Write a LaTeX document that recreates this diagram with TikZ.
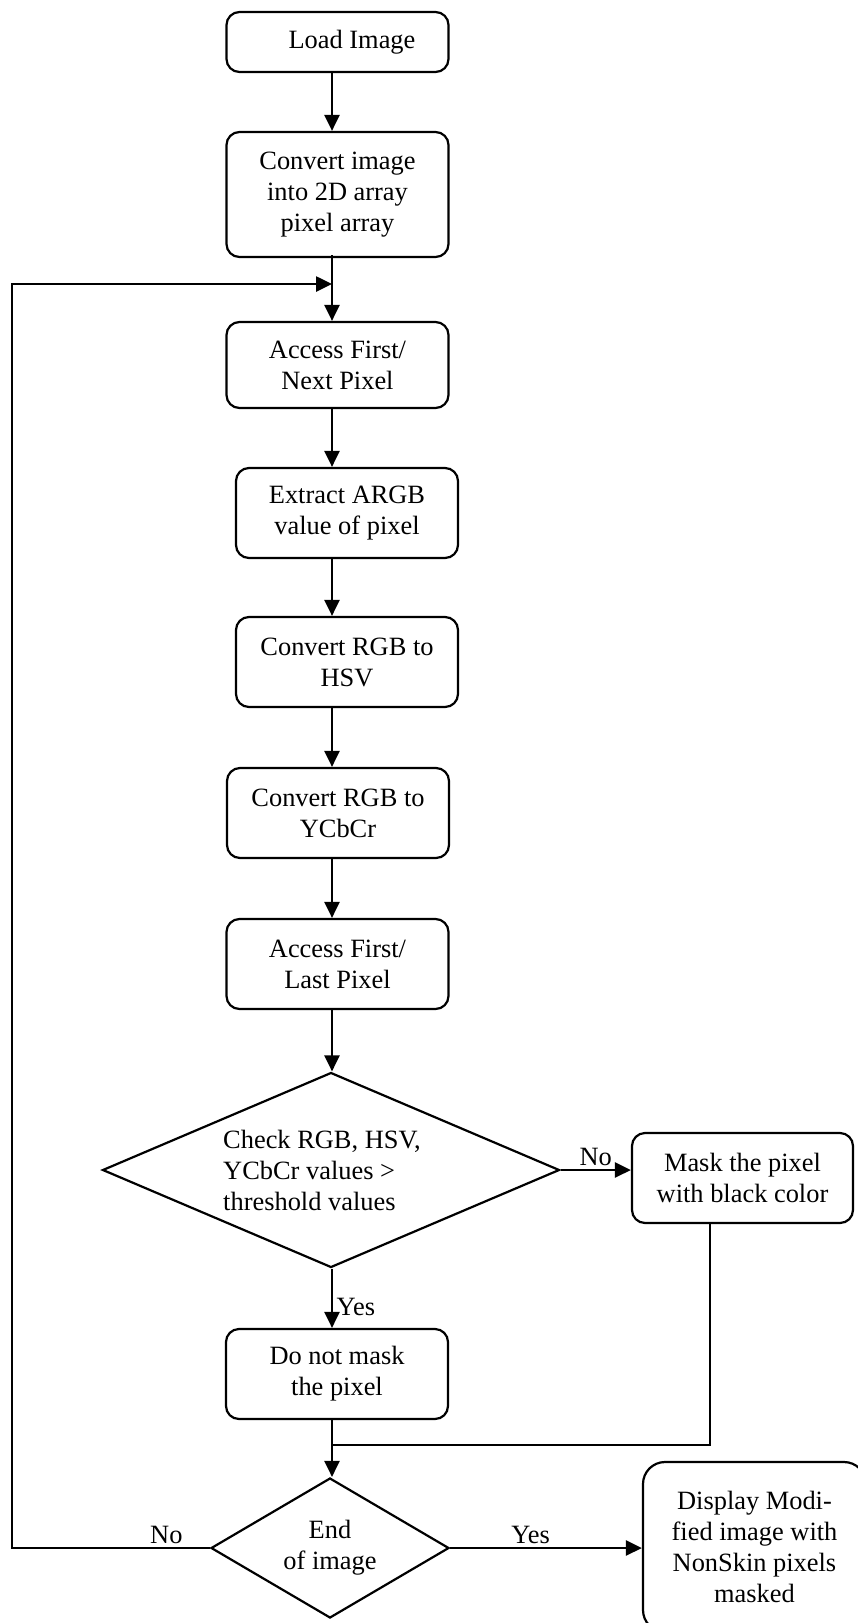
\documentclass[tikz,border=0pt]{standalone}
\usepackage{fontspec}
\setmainfont{Liberation Serif}
\usetikzlibrary{shapes.geometric, arrows.meta}

\tikzset{
  box/.style={draw, line width=2.2pt, rounded corners=13pt, minimum width=222pt,
    minimum height=90pt, align=center},
  decision/.style={draw, diamond, line width=2.2pt, inner sep=0pt},
  arr/.style={-{Triangle[length=16pt, width=15pt]}, line width=2.6pt},
}

\begin{document}
\begin{tikzpicture}[x=1pt, y=-1pt,
    every node/.style={font=\fontsize{26.4}{31}\selectfont}]

    \useasboundingbox (0,0) rectangle (858,1623);

    % the main column of steps
    \node[box, minimum height=60pt] (load) at (337.5,42) {\hspace*{29pt}Load Image};
    \node[box, minimum height=125pt] (convert) at (337.5,194.5) {Convert image\\into 2D array\\pixel array};
    \node[box, minimum height=86pt] (first) at (337.5,365) {Access First/\\Next Pixel};
    \node[box] (argb) at (347,513) {Extract ARGB\\value of pixel};
    \node[box] (hsv) at (347,662) {Convert RGB to\\HSV};
    \node[box] (ycbcr) at (338,813) {Convert RGB to\\YCbCr};
    \node[box] (last) at (337.5,964) {Access First/\\Last Pixel};

    % threshold test and its two outcomes
    \node[decision, minimum width=457pt, minimum height=195pt, shape aspect=2.34,
      align=left] (check) at (331,1170) {Check RGB, HSV,\hspace*{18pt}\\YCbCr values >\\threshold values};
    \node[box, minimum width=221pt] (mask) at (742.5,1178) {Mask the pixel\\with black color};
    \node[box] (keep) at (337,1374) {Do not mask\\the pixel};

    % end test and the result
    \node[decision, minimum width=238pt, minimum height=140pt, shape aspect=1.7,
      align=center] (endimg) at (330,1548) {End\\of image};
    \node[box, minimum width=223pt, minimum height=170pt, rounded corners=22pt] (show)
      at (754.5,1547) {Display Modi-\\fied image with\\NonSkin pixels\\masked};

    % points on the spine where lines meet
    \coordinate (spine) at (332,0);
    \coordinate (join) at (332,284);
    \coordinate (merge) at (332,1445);

    \draw[arr] (load.south -| spine) -- (convert.north -| spine);
    \draw[arr] ([yshift=3pt]convert.south -| spine) -- (first.north -| spine);
    \draw[arr] (first.south -| spine) -- (argb.north -| spine);
    \draw[arr] (argb.south -| spine) -- (hsv.north -| spine);
    \draw[arr] (hsv.south -| spine) -- (ycbcr.north -| spine);
    \draw[arr] (ycbcr.south -| spine) -- (last.north -| spine);
    \draw[arr] (last.south -| spine) -- (check.north -| spine);

    \draw[arr] (check.east) -- (check.east -| mask.west) node[midway, above] {No};
    \draw[arr] (check.south -| spine) -- (keep.north -| spine) node[pos=0.65, right] {Yes};

    % masked pixels come back to the spine
    \draw[line width=2.2pt] ([xshift=-32.5pt]mask.south) |- (merge);
    \draw[arr] (keep.south -| spine) -- (endimg.north -| spine);

    % loop back for the next pixel
    \draw[arr] (endimg.west) -- ++(-198,0) node[pos=0.22, above] {No} |- (join);
    \draw[arr] (endimg.east) -- (show.west |- endimg.east) node[pos=0.42, above] {Yes};

\end{tikzpicture}
\end{document}
